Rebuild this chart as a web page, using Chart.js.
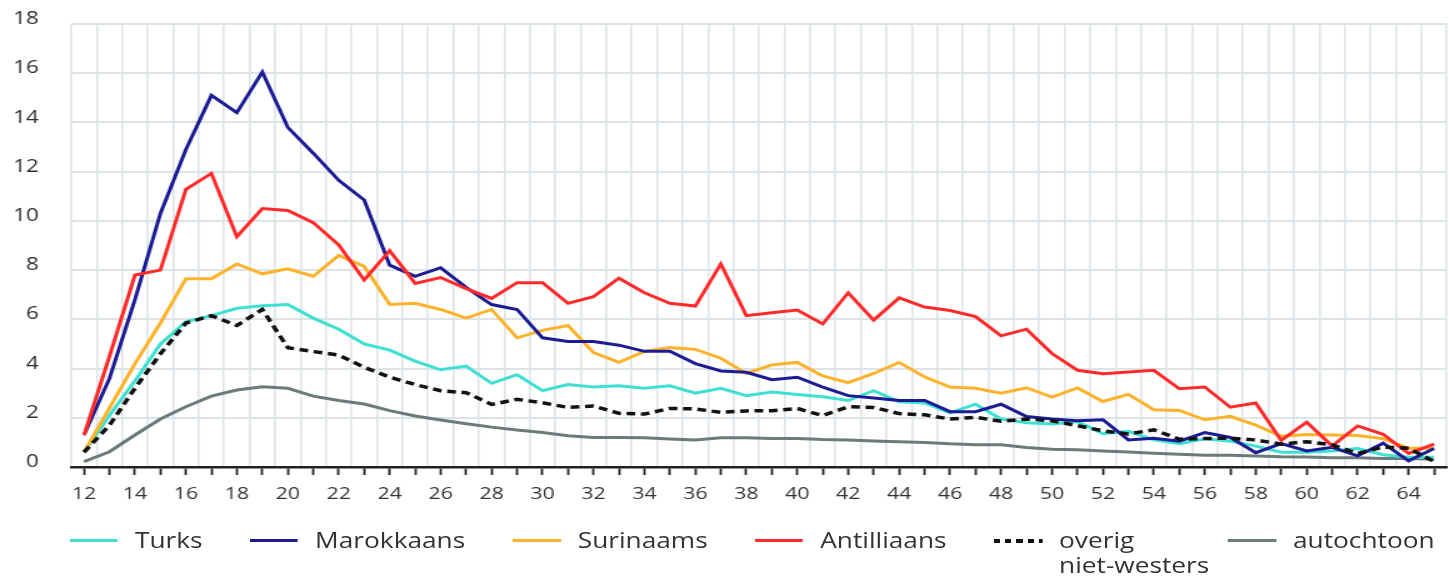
<!DOCTYPE html>
<html lang="nl">
<head>
<meta charset="utf-8">
<title>Verdachten naar leeftijd en herkomst</title>
<script src="https://cdn.jsdelivr.net/npm/chart.js@4.4.0/dist/chart.umd.min.js"></script>
<style>
  html, body { margin: 0; padding: 0; background: #fff; overflow: hidden; }
  /* de bron is horizontaal uitgerekt: teken smaller en rek met CSS op */
  #stage { position: absolute; left: 0; top: 0; width: 1159px; height: 576px; transform: scaleX(1.2502); transform-origin: 0 0; }
  #box { position: relative; width: 1159px; height: 510px; }
  #legend { position: absolute; left: 56px; top: 528px; display: flex; align-items: flex-start; width: 1400px;
            font-family: 'Open Sans', sans-serif; font-size: 21px; line-height: 25px; color: #333; }
  .item { display: flex; align-items: flex-start; margin-right: 38px; flex-shrink: 0; }
  .swatch { width: 38.4px; height: 3px; margin-top: 11px; margin-right: 13.6px; flex-shrink: 0; }
  .label { white-space: pre; }
</style>
</head>
<body>
<div id="stage">
  <div id="box"><canvas id="chart"></canvas></div>
  <div id="legend"></div>
</div>
<script>
// leeftijden (categorieën)
const ages = [12, 13, 14, 15, 16, 17, 18, 19, 20, 21, 22, 23, 24, 25, 26, 27, 28, 29, 30,
  31, 32, 33, 34, 35, 36, 37, 38, 39, 40, 41, 42, 43, 44, 45, 46, 47, 48, 49, 50,
  51, 52, 53, 54, 55, 56, 57, 58, 59, 60, 61, 62, 63, 64, 65];

const yTicks = [0, 2, 4, 6, 8, 10, 12, 14, 16, 18];

// percentages per herkomstgroep
const turks = [0.6, 2.1, 3.5, 5.0, 5.9, 6.15, 6.45, 6.55, 6.6, 6.05, 5.6, 5.0, 4.75, 4.3, 3.95, 4.1, 3.4, 3.75, 3.1,
  3.35, 3.25, 3.3, 3.2, 3.3, 3.0, 3.2, 2.9, 3.05, 2.95, 2.85, 2.7, 3.1, 2.65, 2.6, 2.2, 2.55, 1.95, 1.8, 1.75,
  1.85, 1.35, 1.45, 1.1, 0.95, 1.15, 1.05, 0.85, 0.6, 0.6, 0.65, 0.75, 0.5, 0.4, 0.4];

const marokkaans = [1.3, 3.6, 6.8, 10.3, 12.9, 15.1, 14.4, 16.05, 13.8, 12.75, 11.65, 10.85, 8.2, 7.75, 8.1, 7.3, 6.6, 6.4, 5.25,
  5.1, 5.1, 4.95, 4.7, 4.7, 4.2, 3.9, 3.85, 3.55, 3.65, 3.25, 2.9, 2.8, 2.7, 2.7, 2.25, 2.25, 2.55, 2.05, 1.95,
  1.88, 1.92, 1.1, 1.17, 1.05, 1.4, 1.2, 0.58, 0.95, 0.65, 0.8, 0.45, 0.97, 0.25, 0.75];

const surinaams = [0.6, 2.4, 4.2, 5.85, 7.65, 7.65, 8.25, 7.85, 8.05, 7.75, 8.6, 8.15, 6.6, 6.65, 6.4, 6.05, 6.4, 5.25, 5.55,
  5.75, 4.65, 4.25, 4.7, 4.85, 4.78, 4.42, 3.8, 4.15, 4.25, 3.7, 3.43, 3.8, 4.25, 3.66, 3.25, 3.2, 3.0, 3.22, 2.84,
  3.21, 2.66, 2.95, 2.33, 2.3, 1.92, 2.06, 1.7, 1.25, 1.32, 1.3, 1.28, 1.15, 0.76, 0.76];

const antilliaans = [1.3, 4.5, 7.8, 8.0, 11.28, 11.93, 9.36, 10.5, 10.42, 9.93, 9.02, 7.6, 8.79, 7.46, 7.7, 7.25, 6.85, 7.49, 7.49,
  6.65, 6.92, 7.67, 7.08, 6.65, 6.54, 8.25, 6.15, 6.27, 6.38, 5.81, 7.08, 5.97, 6.87, 6.5, 6.36, 6.11, 5.33, 5.6, 4.61,
  3.93, 3.79, 3.86, 3.93, 3.18, 3.25, 2.43, 2.6, 1.08, 1.82, 0.85, 1.67, 1.33, 0.55, 0.93];

const overig = [0.6, 1.7, 3.2, 4.6, 5.85, 6.15, 5.75, 6.4, 4.85, 4.69, 4.55, 4.05, 3.65, 3.35, 3.1, 3.02, 2.54, 2.75, 2.61,
  2.42, 2.48, 2.18, 2.15, 2.38, 2.36, 2.22, 2.28, 2.29, 2.38, 2.09, 2.45, 2.42, 2.17, 2.12, 1.95, 2.02, 1.86, 1.95, 1.88,
  1.68, 1.47, 1.34, 1.51, 1.13, 1.16, 1.17, 1.1, 0.93, 1.03, 0.9, 0.55, 0.81, 0.76, 0.22];

const autochtoon = [0.22, 0.62, 1.3, 1.95, 2.45, 2.88, 3.13, 3.26, 3.2, 2.88, 2.7, 2.56, 2.29, 2.07, 1.91, 1.76, 1.62, 1.5, 1.4,
  1.27, 1.2, 1.2, 1.19, 1.14, 1.1, 1.19, 1.19, 1.16, 1.16, 1.12, 1.1, 1.06, 1.03, 1.0, 0.94, 0.9, 0.9, 0.79, 0.72,
  0.7, 0.65, 0.61, 0.56, 0.52, 0.48, 0.48, 0.45, 0.42, 0.41, 0.38, 0.38, 0.35, 0.35, 0.31];

const series = [
  { name: 'Turks', data: turks, color: '#3fe0d2', order: 4 },
  { name: 'Marokkaans', data: marokkaans, color: '#1b1b94', order: 2 },
  { name: 'Surinaams', data: surinaams, color: '#fdb22b', order: 3 },
  { name: 'Antilliaans', data: antilliaans, color: '#ff2a2a', order: 1 },
  { name: 'overig niet-westers', data: overig, color: '#111111', order: 0, dash: true },
  { name: 'autochtoon', data: autochtoon, color: '#6b7b7b', order: 5 }
];

const gridColor = '#dde4e7';

Chart.defaults.font.family = "'Open Sans', sans-serif";

new Chart(document.getElementById('chart'), {
  type: 'line',
  data: {
    labels: ages,
    datasets: series.map(s => ({
      label: s.name,
      data: s.data,
      borderColor: s.color,
      backgroundColor: s.color,
      borderWidth: s.dash ? 3.5 : 3,
      borderDash: s.dash ? [7, 4.5] : [],
      pointRadius: 0,
      tension: 0,
      fill: false,
      order: s.order
    }))
  },
  options: {
    responsive: true,
    maintainAspectRatio: false,
    animation: false,
    layout: { padding: { top: 24, right: 0, bottom: 0, left: 0 } },
    plugins: {
      legend: { display: false },
      tooltip: { enabled: false }
    },
    scales: {
      // rasterlijnen tussen de leeftijden
      x: {
        type: 'category',
        offset: true,
        grid: { offset: true, color: gridColor, lineWidth: 1.6, drawTicks: false },
        border: { display: false },
        ticks: { display: false },
        afterFit: s => { s.height = 0; }
      },
      // streepjes en labels op de leeftijden zelf
      x2: {
        type: 'category',
        position: 'bottom',
        offset: true,
        grid: { offset: false, drawOnChartArea: false, drawTicks: true, tickLength: 8, tickWidth: 1.8, tickColor: '#222' },
        border: { display: true, color: '#222', width: 2.5 },
        ticks: {
          autoSkip: false,
          maxRotation: 0,
          padding: 9,
          color: '#333',
          font: { size: 17 },
          callback: (v, i) => ages[i] % 2 === 0 ? String(ages[i]) : ''
        },
        afterFit: s => { s.height = 43; }
      },
      y: {
        min: 0,
        max: 18,
        afterBuildTicks: s => { s.ticks = yTicks.map(v => ({ value: v })); },
        grid: { color: gridColor, lineWidth: 2, drawTicks: false },
        border: { display: false },
        ticks: { padding: 26, labelOffset: -5, color: '#2e2e2e', font: { size: 18 } },
        afterFit: s => { s.width = 57; s.paddingTop = 0; s.paddingBottom = 0; }
      }
    }
  }
});

// legenda onder de grafiek
const legend = document.getElementById('legend');
series.forEach(s => {
  const item = document.createElement('div');
  item.className = 'item';
  const sw = document.createElement('div');
  sw.className = 'swatch';
  if (s.dash) {
    sw.style.height = '4px';
    sw.style.marginTop = '10.5px';
    sw.style.background = 'repeating-linear-gradient(to right, ' + s.color + ' 0 5px, transparent 5px 9px)';
    item.style.marginRight = '15px';
  } else {
    sw.style.background = s.color;
  }
  const txt = document.createElement('div');
  txt.className = 'label';
  txt.textContent = s.name.replace(' ', '\n');
  item.appendChild(sw);
  item.appendChild(txt);
  legend.appendChild(item);
});
</script>
</body>
</html>
